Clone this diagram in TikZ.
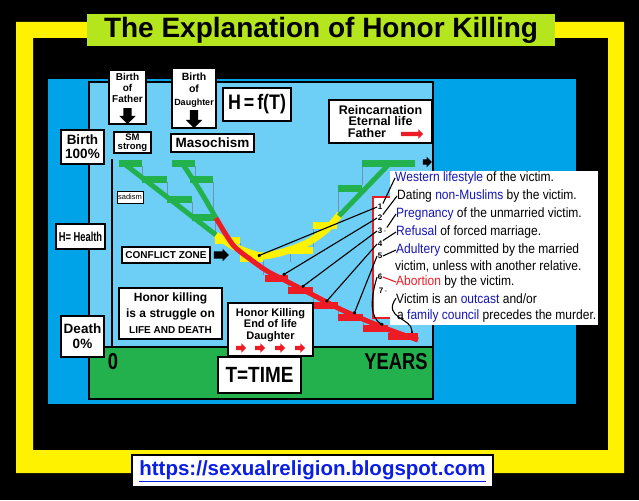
\documentclass[tikz,border=0pt]{standalone}
\usepackage{fontspec}
\setmainfont{Liberation Sans}
\usepackage{xcolor}
\usepackage{graphicx}
\usetikzlibrary{positioning, arrows.meta, shapes.arrows}

\definecolor{frameyellow}{HTML}{FFF200}
\definecolor{titlegreen}{HTML}{B5E61D}
\definecolor{darkpanel}{HTML}{00A2E8}
\definecolor{lightpanel}{HTML}{6DCFF6}
\definecolor{stepgreen}{HTML}{22B14C}
\definecolor{stepred}{HTML}{ED1C24}
\definecolor{stepyellow}{HTML}{FFF200}
\definecolor{textblue}{HTML}{1414B8}
\definecolor{urlblue}{HTML}{0A1EE6}
\definecolor{risergray}{HTML}{6F93AB}
\newcommand{\fsz}[2]{\fontsize{#1}{#2}\selectfont}
\newcommand{\narrow}[2]{\scalebox{#1}[1]{#2}}

\begin{document}
\begin{tikzpicture}[x=1pt, y=-1pt,
  box/.style={rectangle, draw=black, fill=white, line width=1.4pt, inner sep=0pt, align=center},
  plain/.style={inner sep=0pt, align=center},
  riser/.style={draw=risergray, line width=0.7pt},
  link/.style={draw=black, line width=1.1pt},
  tick/.style={link, -{Square[length=2.5pt, width=2.5pt]}},
  num/.style={inner sep=0.5pt, font=\bfseries\fsz{8}{8}},
  item/.style={anchor=base west, inner sep=0pt, font=\fsz{13.5}{13.5}},
  blockarrow/.style={single arrow, fill=#1, draw=none, inner xsep=0pt},
  blockarrow/.default=black]

\useasboundingbox (0,0) rectangle (639,500);
\fill[black] (0,0) rectangle (639,500);

% Frame and title
\fill[frameyellow, even odd rule] (16,22) rectangle (624,473) (33,38) rectangle (608,450);
\node[fill=titlegreen, minimum width=468pt, minimum height=32pt, inner sep=0pt, font=\bfseries\fsz{28}{30}] (title) at (321,30) {The Explanation of Honor Killing};

% Panels
\fill[darkpanel] (48,79) rectangle (576,404);
\draw[fill=lightpanel, line width=2pt] (89,82) rectangle (433,347);
\draw[fill=stepgreen, line width=2pt] (89,347) rectangle (433,399);
\coordinate (axistop) at (112,159);
\coordinate (axisbottom) at (112,347);
\draw[line width=1.5pt] (axistop) -- (axisbottom);

% Risers between the steps
\foreach \xx/\ya/\yb in {142/166/176, 167/182/196, 192/202/214, 215/220/237, 240/243/255, 263/261/275,
                         288/281/287, 313/293/302, 338/308/314, 363/320/325, 388/331/333,
                         195/166/176, 213/182/214, 290/253/262, 313/228/247, 338/191/222, 362/166/185}
  \draw[riser] (\xx,\ya) -- (\xx,\yb);

% Steps
\foreach \xa/\xb/\yy/\col in {119/142/160/stepgreen, 142/167/176/stepgreen, 167/192/196/stepgreen, 192/215/214/stepgreen,
                              172/195/160/stepgreen, 190/213/176/stepgreen, 338/362/185/stepgreen, 362/415/160/stepgreen,
                              215/240/237/stepyellow, 240/263/255/stepyellow, 290/313/247/stepyellow, 313/337/222/stepyellow,
                              265/288/275/stepred, 288/313/287/stepred, 313/338/302/stepred, 338/363/314/stepred,
                              363/388/325/stepred, 388/418/333/stepred}
  \fill[\col] (\xa,\yy) rectangle (\xb,\yy+6.5);

% Health curves
\draw[stepgreen, line width=5pt] (122,162) -- (216,235);
\draw[stepyellow, line width=7pt] plot[smooth] coordinates {(216,235) (233,246) (250,253) (263,256) (283,252) (307,243) (327,229) (340,214)};
\draw[stepgreen, line width=5pt] (339,216) -- (391,162);
\draw[stepgreen, line width=5pt] (182,163) .. controls (200,190) .. (216,218);
\draw[stepred, line width=5pt] plot[smooth] coordinates {(216,218) (233,245) (250,259) (267,271) (290,283) (315,296) (340,309) (365,320) (390,330) (418,340)};
\node[blockarrow, inner ysep=2.5pt, single arrow head extend=2.5pt, minimum height=9pt] (lifearrow) at (426,162) {};

% Causes
\draw[stepred, fill=white, line width=2.5pt] (373,197) rectangle (420,318);
\fill[white] (390,171) rectangle (598,325);

\node[num] (n1) at (380,207) {1};
\node[num] (n2) at (380,218) {2};
\node[num] (n3) at (382,231) {3\,\textcolor{gray}{-}};
\node[num] (n4) at (380,244) {4};
\node[num] (n5) at (380,256) {5};
\node[num] (n6) at (380,277) {6};
\node[num] (n7) at (383,291) {7\,\textcolor{gray}{-}};

\node[item] (t1) at (395,181.5) {\narrow{0.89}{{\color{textblue}Western lifestyle} of the victim.}};
\node[item] (t2) at (397,199.5) {\narrow{0.89}{Dating {\color{textblue}non-Muslims} by the victim.}};
\node[item] (t3) at (396,217.5) {\narrow{0.89}{{\color{textblue}Pregnancy} of the unmarried victim.}};
\node[item] (t4) at (396,235.5) {\narrow{0.89}{{\color{textblue}Refusal} of forced marriage.}};
\node[item] (t5) at (396,253.5) {\narrow{0.89}{{\color{textblue}Adultery} committed by the married}};
\node[item] (t6) at (395,270) {\narrow{0.89}{victim, unless with another relative.}};
\node[item] (t7) at (396,285.5) {\narrow{0.89}{{\color{stepred}Abortion} by the victim.}};
\node[item] (t8) at (396,303) {\narrow{0.89}{Victim is an {\color{textblue}outcast} and/or}};
\node[item] (t9) at (397,319.5) {\narrow{0.89}{a {\color{textblue}family council} precedes the murder.}};

\draw[link] (n1.north east) -- (t1.west);
\draw[link] (n2.north east) -- (t2.west);
\draw[link] (n3.north east) -- (t3.west);
\draw[link] (n4.north east) -- (t4.west);
\draw[link] (n5.east) -- (t5.west);
\draw[stepred, line width=1.1pt] (n6.east) -- (t7.west);

\coordinate (e1) at (258,256);
\coordinate (e2) at (283,275);
\coordinate (e3) at (302,287);
\coordinate (e4) at (326,302);
\coordinate (e5) at (354,314);
\coordinate (e6) at (383,325);
\coordinate (e7) at (412,333);

\draw[tick] (n1.west) -- (e1);
\draw[tick] (n2.west) -- (e2);
\draw[tick] (n3.west) -- (e3);
\draw[tick] (n4.west) -- (e4);
\draw[tick] (n5.west) -- (e5);
\draw[tick] (n6.west) .. controls (370,300) and (370,318) .. (e6);
\draw[tick] (t8.west) .. controls (382,318) and (412,318) .. (e7);

% Axis labels
\node[box, minimum width=43pt, minimum height=34pt, font=\bfseries\fsz{13.5}{14}] (birth) at (82.5,147) {Birth\\100\%};
\node[box, minimum width=49pt, minimum height=25pt, font=\bfseries\fsz{13}{13}] (health) at (80.5,236.5) {\narrow{0.72}{H= Health}};
\node[box, minimum width=43pt, minimum height=41pt, font=\bfseries\fsz{13.5}{15}] (death) at (82.5,336.5) {Death\\0\%};
\node[plain, font=\bfseries\fsz{23}{23}] (zero) at (113,362) {\narrow{0.8}{0}};
\node[plain, font=\bfseries\fsz{23}{23}] (years) at (396,362) {\narrow{0.8}{YEARS}};
\node[box, minimum width=83pt, minimum height=36pt, font=\bfseries\fsz{22}{22}] (time) at (259.5,375) {\narrow{0.86}{T=TIME}};

% Births
\node[box, minimum width=37pt, minimum height=54pt] (fatherbox) at (127.5,97) {};
\node[plain, font=\bfseries\fsz{10}{11}] (fathertext) at (127.5,88) {Birth\\of\\Father};
\node[blockarrow, rotate=-90, inner ysep=4pt, single arrow head extend=4pt, minimum height=16pt] (fatherarrow) at (127.5,114) {};
\node[box, minimum width=44pt, minimum height=60pt] (daughterbox) at (194,98) {};
\node[plain, font=\bfseries\fsz{10.5}{12.5}] (daughtertext) at (194,90) {Birth\\of\\\fsz{9}{12.5}Daughter};
\node[blockarrow, rotate=-90, inner ysep=4pt, single arrow head extend=4pt, minimum height=18pt] (daughterarrow) at (194,117) {};
\node[box, minimum width=37pt, minimum height=21pt, font=\bfseries\fsz{9.5}{9}] (smstrong) at (132.5,142.5) {SM\\strong};
\node[box, minimum width=83pt, minimum height=18pt, font=\bfseries\fsz{13.5}{14}] (masochism) at (212.5,143) {Masochism};
\node[box, line width=0.8pt, minimum width=26pt, minimum height=12pt, font=\fsz{7.5}{8}] (sadism) at (130,197) {sadism};
\node[box, minimum width=68pt, minimum height=33pt, font=\bfseries\fsz{21}{21}] (hft) at (257,104.5) {\narrow{0.85}{H\,=\,f(T)}};
\node[box, minimum width=103pt, minimum height=43pt, font=\bfseries\fsz{12.5}{11.5}] (reincarnation) at (380.5,121.5) {Reincarnation\\Eternal life\\Father\makebox[27pt]{}};
\node[blockarrow=stepred, inner ysep=2pt, single arrow head extend=2.5pt, minimum height=22pt] (reincarnationarrow) at (411,134) {};

% Conflict and death
\node[box, minimum width=88pt, minimum height=16pt, font=\bfseries\fsz{10}{10}] (conflict) at (166,255) {CONFLICT ZONE};
\node[blockarrow, inner ysep=3.5pt, single arrow head extend=2.5pt, minimum height=15pt, right=3pt of conflict] (conflictarrow) {};
\node[box, minimum width=103pt, minimum height=51pt, font=\bfseries\fsz{12}{16}] (struggle) at (170.5,313.5) {Honor killing\\is a struggle on\\{\fsz{10}{16}LIFE AND DEATH}};
\node[box, minimum width=85pt, minimum height=53pt] (endoflife) at (270.5,329.5) {};
\node[plain, font=\bfseries\fsz{11}{11.5}] (endtext) at (270.5,325) {Honor Killing\\End of life\\Daughter};
\foreach \ax [count=\i] in {240,259,279,299}
  \node[blockarrow=stepred, inner ysep=2pt, single arrow head extend=2.5pt, minimum height=10pt] (killarrow\i) at (\ax,348) {};

% Source
\node[box, line width=2pt, minimum width=361pt, minimum height=32pt, font=\bfseries\fsz{20.5}{21}, text=urlblue] (url) at (312.5,471) {\underline{https://sexualreligion.blogspot.com}};

\end{tikzpicture}
\end{document}
